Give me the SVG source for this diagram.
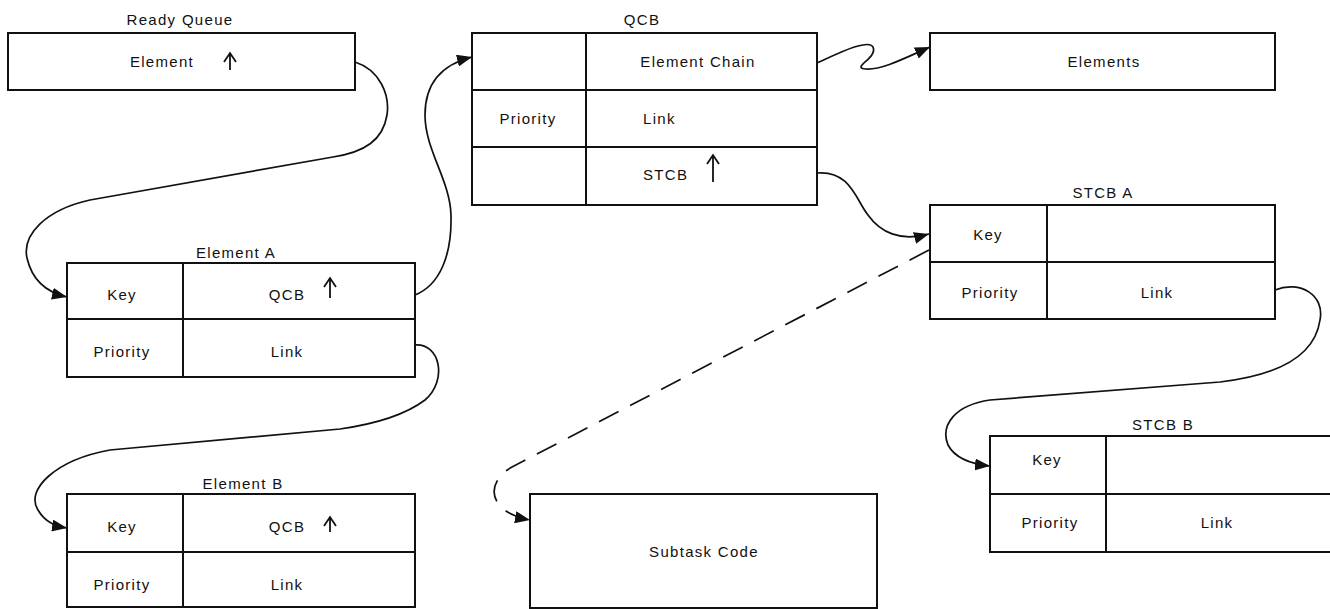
<svg xmlns="http://www.w3.org/2000/svg" width="1330" height="609" viewBox="0 0 1330 609">
<style>
.box{fill:none;stroke:#111;stroke-width:2}
.ln{stroke:#111;stroke-width:2;fill:none}
.t{font-family:"Liberation Sans",Arial,sans-serif;font-size:15px;fill:#111;letter-spacing:1.3px}
.c{text-anchor:middle}
.con{fill:none;stroke:#111;stroke-width:1.7}
.dash{stroke-dasharray:22 13}
.up{fill:none;stroke:#111;stroke-width:1.8}
</style>
<defs>
<marker id="ah" markerUnits="userSpaceOnUse" markerWidth="16" markerHeight="12" refX="15" refY="6" orient="auto">
<path d="M0,0 L15,6 L0,12 z" fill="#111"/>
</marker>
</defs>
<rect width="1330" height="609" fill="#fff"/>

<g id="ready-queue">
<text class="t c" x="180" y="25">Ready Queue</text>
<rect class="box" x="8" y="33" width="347" height="57"/>
<text class="t c" x="162" y="67">Element</text>
<path class="up" d="M230,70 V54 M224,62 L230,53 L236,62"/>
</g>

<g id="qcb">
<text class="t c" x="642" y="25">QCB</text>
<rect class="box" x="472" y="33" width="345" height="172"/>
<path class="ln" d="M586,33 V205 M472,90 H817 M472,147 H817"/>
<text class="t c" x="698" y="67">Element Chain</text>
<text class="t c" x="528" y="124">Priority</text>
<text class="t" x="643" y="124">Link</text>
<text class="t" x="643" y="180">STCB</text>
<path class="up" d="M713,182 V156 M707,164 L713,155 L719,164"/>
</g>

<g id="elements">
<rect class="box" x="930" y="33" width="345" height="57"/>
<text class="t c" x="1104" y="67">Elements</text>
</g>

<g id="stcb-a">
<text class="t c" x="1103" y="198">STCB A</text>
<rect class="box" x="930" y="205" width="345" height="114"/>
<path class="ln" d="M1047,205 V319 M930,262 H1275"/>
<text class="t c" x="988" y="240">Key</text>
<text class="t c" x="990" y="298">Priority</text>
<text class="t c" x="1157" y="298">Link</text>
</g>

<g id="stcb-b">
<text class="t c" x="1163" y="430">STCB B</text>
<rect class="box" x="990" y="436" width="360" height="116"/>
<path class="ln" d="M1106,436 V552 M990,494 H1330"/>
<text class="t c" x="1047" y="465">Key</text>
<text class="t c" x="1050" y="528">Priority</text>
<text class="t c" x="1217" y="528">Link</text>
</g>

<g id="element-a">
<text class="t c" x="236" y="258">Element A</text>
<rect class="box" x="67" y="263" width="348" height="114"/>
<path class="ln" d="M183,263 V377 M67,319 H415"/>
<text class="t c" x="122" y="300">Key</text>
<text class="t c" x="287" y="300">QCB</text>
<path class="up" d="M330,298 V279 M324,287 L330,278 L336,287"/>
<text class="t c" x="122" y="357">Priority</text>
<text class="t c" x="287" y="357">Link</text>
</g>

<g id="element-b">
<text class="t c" x="243" y="489">Element B</text>
<rect class="box" x="67" y="494" width="348" height="113"/>
<path class="ln" d="M183,494 V607 M67,552 H415"/>
<text class="t c" x="122" y="532">Key</text>
<text class="t c" x="287" y="532">QCB</text>
<path class="up" d="M330,532 V518 M324,526 L330,517 L336,526"/>
<text class="t c" x="122" y="590">Priority</text>
<text class="t c" x="287" y="590">Link</text>
</g>

<g id="subtask-code">
<rect class="box" x="530" y="494" width="347" height="114"/>
<text class="t c" x="704" y="557">Subtask Code</text>
</g>

<g id="connectors">
<path class="con" marker-end="url(#ah)" d="M355,62 C380,70 390,95 387,115 C383,140 365,152 333,157 L90,200 C45,210 22,235 27,258 C32,280 45,292 67,297"/>
<path class="con" marker-end="url(#ah)" d="M415,295 C440,285 452,255 451,215 C450,180 425,150 425,115 C425,85 440,65 472,57"/>
<path class="con" marker-end="url(#ah)" d="M817,63 C835,55 868,38 873,47 C878,58 850,68 866,69 C882,70 905,58 930,47"/>
<path class="con" marker-end="url(#ah)" d="M817,173 C850,170 856,200 868,215 C880,232 900,242 929,234"/>
<path class="con" marker-end="url(#ah)" d="M415,345 C440,343 448,380 425,400 C405,415 375,424 340,429 L110,450 C55,460 25,490 38,510 C45,522 55,526 67,528"/>
<path class="con" marker-end="url(#ah)" d="M1275,290 C1300,280 1325,295 1320,320 C1315,355 1280,375 1220,382 L990,400 C955,405 940,425 948,445 C955,458 970,464 990,466"/>
<path class="con dash" marker-end="url(#ah)" d="M929,250 L512,467 C485,482 487,512 530,520"/>
</g>
</svg>
